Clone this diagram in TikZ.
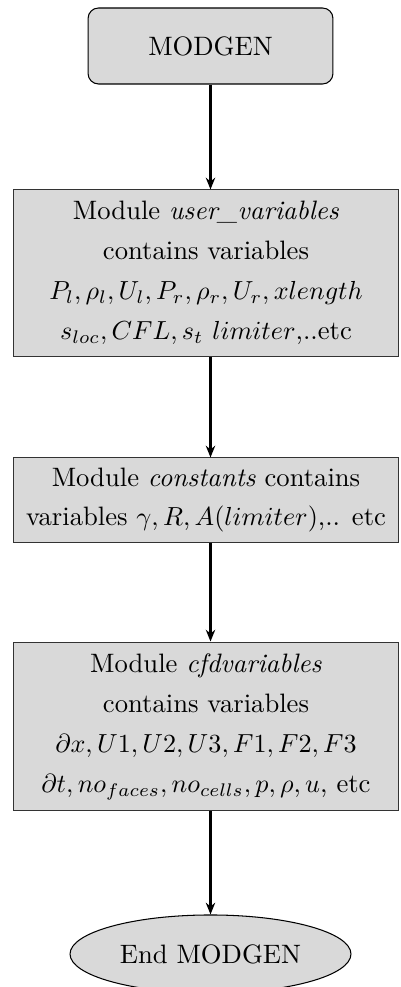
\documentclass[tikz,border=0pt]{standalone}
\usetikzlibrary{arrows.meta,shapes.geometric}

\begin{document}
\begin{tikzpicture}[x=0.383pt,y=-0.383pt,
  every node/.style={font=\fontsize{10.2}{15.3}\selectfont, inner sep=0pt, align=center},
  startbox/.style={draw=black, fill=black!15, rounded corners=4pt, line width=0.4pt,
    minimum width=93.8pt, minimum height=29.1pt},
  modbox/.style={draw=black!80, fill=black!15, line width=0.4pt, minimum width=147.8pt},
  endshape/.style={ellipse, draw=black, fill=black!15, line width=0.4pt,
    minimum width=107.6pt, minimum height=29.9pt},
  arr/.style={-{Stealth[length=4.5pt,width=3.6pt]}, line width=0.8pt}]
  \useasboundingbox (0,0) rectangle (400,987);

  \node[startbox] (start) at (210.5,46) {MODGEN};

  \node[modbox, minimum height=63.6pt] (user) at (206,273)
    {Module \textit{user\_variables}\\
     contains variables\\
     $P_l,\rho_l,U_l,P_r,\rho_r,U_r,xlength$\\
     $s_{loc},CFL,s_t\ limiter$,..etc};

  \node[modbox, minimum height=32.2pt] (const) at (206,500)
    {Module \textit{constants} contains\\
     variables $\gamma,R,A(limiter)$,.. etc};

  \node[modbox, minimum height=64.7pt] (cfd) at (206,726.5)
    {Module \textit{cfdvariables}\\
     contains variables\\
     $\partial x,U1,U2,U3,F1,F2,F3$\\
     $\partial t,no_{faces},no_{cells},p,\rho,u$, etc};

  \node[endshape] (finish) at (210.5,954) {End MODGEN};

  \draw[arr] (start.south) -- (start.south |- user.north);
  \draw[arr] (start.south |- user.south) -- (start.south |- const.north);
  \draw[arr] (start.south |- const.south) -- (start.south |- cfd.north);
  \draw[arr] (start.south |- cfd.south) -- (finish.north);
\end{tikzpicture}
\end{document}
